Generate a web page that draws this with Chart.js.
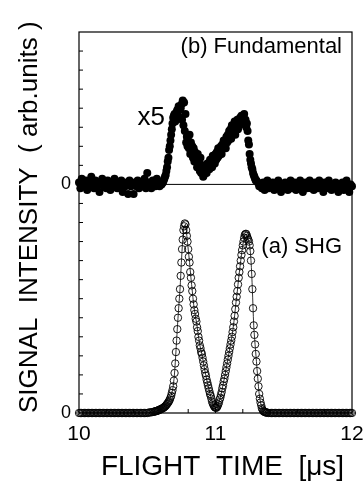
<!DOCTYPE html>
<html><head><meta charset="utf-8">
<script src="https://cdn.jsdelivr.net/npm/chart.js@4.4.1/dist/chart.umd.min.js"></script>
<style>html,body{margin:0;padding:0;background:#fff}</style>
</head><body>
<canvas id="c" width="363" height="486"></canvas>
<script>
// ---- data (time in microseconds, signal in axis units) ----
const xTickLabels = ['10', '11', '12'];
const yTickValues = [0, 12];          // the two "0" labels: SHG zero and Fundamental zero
const yTickLabels = ['0', '0'];
const timeStep = 0.01;

// (a) SHG, scan 1 : t = 10.00 ... 12.00
const shgStart = 10.00;
const shgSignal = [
0,0,0,0,0,0,0,0,0,0, 0,0,0,0,0,0,0,0,0,0, 0,0,0,0,0,0,0,0,0,0, 0,0,0,0,0,0,0,0,0,0, 0,0,0,0,0,0,0,0,0,0, 0,
0.02,0.03,0.04,0.05,0.07,0.09,0.11,0.14,0.17,0.2,
0.24,0.28,0.34,0.42,0.52,0.63,0.8,1.05,1.4,2.1,
3.2,4.4,5.5,6.5,7.9,9.1,9.8,9.9,9.3,8.6,
7.9,7.1,6.4,5.7,5.2,4.8,4.3,3.8,3.4,3.1,
2.7,2.3,1.95,1.6,1.3,1.0,0.75,0.5,0.35,0.28,
0.3,0.45,0.7,0.95,1.3,1.65,2.0,2.4,2.8,3.2,
3.6,4.0,4.5,5.1,5.8,6.4,7.1,7.7,8.3,8.8,
9.2,9.4,9.3,9.1,8.8,8.0,6.5,4.6,3.6,2.7,
1.8,1.0,0.55,0.25,0.1,0.05,0.03,0.02,
0,0,0,0,0,0,0,0,0,0, 0,0,0,0,0,0,0,0,0,0, 0,0,0,0,0,0,0,0,0,0, 0,0,0,0,0,0,0,0,0,0, 0,0,0,0,0,0,0,0,0,0, 0,0,0,0,0,0,0,0,0,0, 0,0
];
// (a) SHG, scan 2 : t = 10.555 ... 11.375
const shg2Start = 10.555;
const shgSignal2 = [
0.08,0.1,0.12,0.15,0.19,
0.22,0.26,0.31,0.38,0.47,0.57,0.7,0.9,1.2,1.7,
2.6,3.8,5.0,6.0,7.2,8.6,9.6,9.95,9.6,9.0,
8.2,7.4,6.7,6.0,5.4,4.95,4.5,4.0,3.55,3.2,
2.9,2.5,2.1,1.75,1.45,1.15,0.9,0.6,0.42,0.3,
0.27,0.36,0.55,0.8,1.1,1.45,1.8,2.2,2.6,3.0,
3.4,3.8,4.25,4.8,5.45,6.1,6.75,7.4,8.0,8.55,
9.0,9.35,9.4,9.2,9.0,8.5,7.3,5.5,4.1,3.1,
2.2,1.4,0.75,0.4,0.17,0.08,0.04,0.02
];

// (b) Fundamental (x5), offset so that its zero sits at 12 : scan 1, t = 10.00 ... 12.00
const fundZero = 12;
const fundStart = 10.00;
const fundSignal = [
12.1,11.8,12.3,11.9,12.0,12.2,11.7,12.1,11.9,12.4,
12.0,11.8,12.2,11.9,12.1,11.6,12.0,12.3,11.9,12.1,
11.8,12.2,12.0,11.7,12.1,11.9,12.3,12.0,11.8,12.1,
11.9,12.2,11.6,12.0,11.9,12.1,11.5,12.2,11.9,12.0,
11.5,12.1,11.9,12.2,11.8,12.0,12.1,11.9,12.3,11.8,
12.6,12.1,11.9,11.8,12.2,12.0,11.9,12.3,12.1,11.9,
12.0,
12.1,12.2,12.4,12.7,13.2,13.8,14.3,14.9,15.5,
15.7,15.5,15.9,16.1,15.5,16.2,16.4,16.3,15.7,14.5,
14.3,14.6,14.2,14.0,13.9,13.7,13.5,13.6,13.2,13.4,
12.9,12.4,13.0,12.8,13.1,12.9,13.3,13.2,13.5,13.4,
13.6,13.7,13.9,13.6,14.0,14.1,14.3,14.2,14.5,14.6,
14.8,14.9,15.1,15.0,15.3,15.2,15.4,15.3,15.5,15.6,
15.5,15.7,15.4,15.2,14.3,13.6,13.1,12.8,12.5,12.3,
12.2,
12.1,11.9,12.0,11.8,12.1,11.7,11.9,12.2,11.8,12.0,
11.9,12.1,11.7,12.0,11.8,12.2,11.9,11.6,12.0,11.8,
12.1,11.9,11.7,12.0,12.2,11.8,11.9,12.1,11.7,12.0,
11.8,12.2,11.9,11.6,12.0,12.1,11.8,11.9,12.2,11.8,
12.0,11.7,12.1,11.9,11.8,12.2,12.0,11.9,11.6,12.1,
11.8,12.0,12.2,11.9,11.7,12.0,11.8,12.1,11.9,11.6,
12.0,11.8,12.1,11.7,11.9,12.2,11.8,11.6,12.0,11.9
];
// (b) Fundamental, scan 2 : t = 10.605 ... 11.295
const fund2Start = 10.605;
const fundSignal2 = [
12.0,12.1,12.3,12.5,12.9,13.4,14.0,14.6,15.2,15.6,
15.3,15.8,15.6,15.9,16.0,15.4,15.1,14.8,14.2,14.0,
13.9,13.6,13.8,13.4,13.2,13.3,12.9,13.0,12.7,12.6,
12.8,12.5,12.7,12.6,12.9,12.8,13.0,12.9,13.2,13.1,
13.3,13.4,13.5,13.7,13.6,13.9,14.0,13.9,14.2,14.3,
14.5,14.4,14.7,14.8,14.6,15.0,14.9,15.1,15.3,15.2,
15.4,15.3,15.0,14.8,14.1,13.3,12.9,12.6,12.4,12.2
];

const xTitle = 'FLIGHT  TIME  [\u03bcs]';
const yTitle = 'SIGNAL  INTENSITY  ( arb.units )';
const labelB = '(b) Fundamental';
const labelA = '(a) SHG';
const labelScale = 'x5';

// ---- build library data from the arrays ----
const toXY = (start, arr) => arr.map((v, i) => ({ x: +(start + i * timeStep).toFixed(3), y: v }));
const FONT = '"Liberation Sans", Arial, Helvetica, sans-serif';

const dotStyle = { showLine: false, pointRadius: 4, pointHoverRadius: 4, pointBackgroundColor: '#000', pointBorderColor: '#000', pointBorderWidth: 0, clip: false };
const ringStyle = { showLine: false, pointRadius: 3.7, pointHoverRadius: 3.7, pointBackgroundColor: 'rgba(0,0,0,0)', pointBorderColor: '#000', pointBorderWidth: 0.9, clip: false };

const framePlugin = {
  id: 'frame',
  afterDatasetsDraw(chart) {
    const { ctx, chartArea: a, scales: { x, y } } = chart;
    ctx.save();
    ctx.strokeStyle = '#000';
    ctx.lineWidth = 1.2;
    ctx.strokeRect(a.left, a.top, a.right - a.left, a.bottom - a.top);
    ctx.lineWidth = 1;
    ctx.beginPath();
    x.ticks.forEach(t => {
      const px = x.getPixelForValue(t.value);
      if (px <= a.left + 1 || px >= a.right - 1) return;
      const major = Math.abs(t.value - Math.round(t.value)) < 1e-6;
      ctx.moveTo(px, a.bottom); ctx.lineTo(px, a.bottom - (major ? 6 : 4));
    });
    y.ticks.forEach(t => {
      const py = y.getPixelForValue(t.value);
      if (py <= a.top + 1 || py >= a.bottom - 1) return;
      ctx.moveTo(a.left, py); ctx.lineTo(a.left + 4, py);
    });
    ctx.stroke();
    ctx.fillStyle = '#000';
    ctx.textBaseline = 'middle';
    ctx.font = '22px ' + FONT;
    ctx.textAlign = 'right';
    ctx.fillText(labelB, a.right - 10, a.top + 15);
    ctx.fillText(labelA, a.right - 10, y.getPixelForValue(8.7));
    ctx.font = '26px ' + FONT;
    ctx.textAlign = 'center';
    ctx.fillText(labelScale, x.getPixelForValue(10.53), y.getPixelForValue(15.5));
    // x-axis title, centred a little right of the plot centre as in the reference
    ctx.font = '28px ' + FONT;
    ctx.fillText(xTitle, (a.left + a.right) / 2 + 7, 467);
    ctx.restore();
  }
};

new Chart(document.getElementById('c'), {
  type: 'scatter',
  data: {
    datasets: [
      Object.assign({ label: 'Fundamental', data: toXY(fundStart, fundSignal) }, dotStyle),
      Object.assign({ label: 'Fundamental 2', data: toXY(fund2Start, fundSignal2) }, dotStyle),
      Object.assign({ label: 'SHG', data: toXY(shgStart, shgSignal) }, ringStyle),
      Object.assign({ label: 'SHG 2', data: toXY(shg2Start, shgSignal2) }, ringStyle),
      { label: 'SHG curve', data: toXY(shgStart, shgSignal), showLine: true, borderColor: '#000', borderWidth: 0.8, pointRadius: 0, pointHoverRadius: 0, tension: 0.3 },
      { label: 'Fundamental zero', data: [{ x: 10, y: fundZero }, { x: 12, y: fundZero }], showLine: true, borderColor: '#000', borderWidth: 1, pointRadius: 0, pointHoverRadius: 0 }
    ]
  },
  options: {
    responsive: false,
    animation: false,
    devicePixelRatio: 1,
    events: [],
    layout: { padding: { top: 32, right: 11, left: 0, bottom: 0 } },
    plugins: { legend: { display: false }, tooltip: { enabled: false } },
    scales: {
      x: {
        type: 'linear', min: 10, max: 12,
        afterFit: s => { s.height = 73; s.paddingLeft = 0; s.paddingRight = 0; },
        grid: { display: false, drawTicks: false },
        border: { display: false },
        ticks: {
          stepSize: 0.2, autoSkip: false, maxRotation: 0, padding: 9, color: '#000',
          font: { family: FONT, size: 21 },
          callback: v => {
            const i = xTickLabels.indexOf(String(Math.round(v)));
            return Math.abs(v - Math.round(v)) < 1e-6 && i >= 0 ? xTickLabels[i] : '';
          }
        },
        title: { display: false }
      },
      y: {
        min: 0, max: 20,
        afterFit: s => { s.width = 79; s.paddingTop = 0; s.paddingBottom = 0; },
        grid: { display: false, drawTicks: false },
        border: { display: false },
        ticks: {
          stepSize: 1, autoSkip: false, padding: 8, color: '#000',
          font: { family: FONT, size: 18 },
          callback: v => { const i = yTickValues.indexOf(v); return i >= 0 ? yTickLabels[i] : ''; }
        },
        title: { display: true, text: yTitle, align: 'start', color: '#000', font: { family: FONT, size: 26 }, padding: { top: 14, bottom: 0 } }
      }
    }
  },
  plugins: [framePlugin]
});
</script>
</body></html>
